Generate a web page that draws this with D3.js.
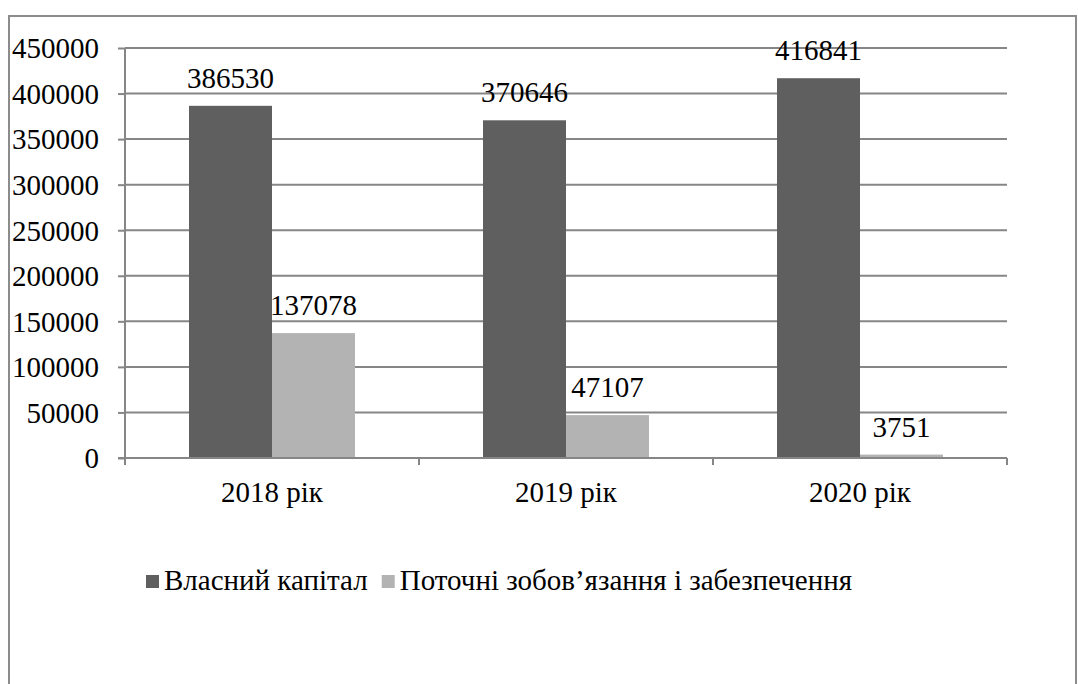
<!DOCTYPE html>
<html>
<head>
<meta charset="utf-8">
<script src="https://cdn.jsdelivr.net/npm/d3@7"></script>
</head>
<body style="margin:0">
<svg id="chart" width="1078" height="684" style="display:block"></svg>
<script>
// Years on the category axis
const categories = ["2018 рік", "2019 рік", "2020 рік"];
// Series names and values
const seriesNames = ["Власний капітал", "Поточні зобов’язання і забезпечення"];
const equity = [386530, 370646, 416841];
const liabilities = [137078, 47107, 3751];
// Value axis ticks
const yTicks = [0, 50000, 100000, 150000, 200000, 250000, 300000, 350000, 400000, 450000];

const seriesColors = ["#5f5f5f", "#b3b3b3"];
const gridColor = "#868686";
const fontFamily = '"Liberation Serif"';

const svg = d3.select("#chart").style("font-family", fontFamily);

// Applies the chart's text style to a selection of text nodes
function serifText(sel) {
  sel.style("font-family", fontFamily).style("font-size", "29px").attr("fill", "#000");
}

// Outer frame
svg.append("rect")
  .attr("x", 9).attr("y", 16)
  .attr("width", 1067).attr("height", 700)
  .attr("fill", "none").attr("stroke", "#8c8c8c").attr("stroke-width", 2);

const plot = { left: 125, right: 1007, top: 48, bottom: 458 };

const x = d3.scaleBand().domain(categories).range([plot.left, plot.right]).padding(0);
const inner = d3.scaleBand().domain(seriesNames)
  .range([64, x.bandwidth() - 64]).padding(0);
const y = d3.scaleLinear().domain([0, 450000]).range([plot.bottom, plot.top]);

// Horizontal gridlines
svg.append("g").selectAll("line").data(yTicks.filter(d => d > 0)).join("line")
  .attr("x1", plot.left).attr("x2", plot.right)
  .attr("y1", d => y(d)).attr("y2", d => y(d))
  .attr("stroke", gridColor).attr("stroke-width", 2);

// Bars with value labels
const seriesData = [equity, liabilities];
seriesNames.forEach((name, si) => {
  const g = svg.append("g");
  g.selectAll("rect").data(categories).join("rect")
    .attr("x", c => x(c) + inner(name))
    .attr("y", (c, i) => y(seriesData[si][i]))
    .attr("width", inner.bandwidth())
    .attr("height", (c, i) => y(0) - y(seriesData[si][i]))
    .attr("fill", seriesColors[si]);
  g.selectAll("text").data(categories).join("text")
    .attr("x", c => x(c) + inner(name) + inner.bandwidth() / 2)
    .attr("y", (c, i) => y(seriesData[si][i]) - 18)
    .attr("text-anchor", "middle")
    .call(serifText)
    .text((c, i) => seriesData[si][i]);
});

// Value axis
const yAxis = d3.axisLeft(y).tickValues(yTicks).tickSize(7).tickPadding(19)
  .tickFormat(d3.format("d"));
const ya = svg.append("g").attr("transform", `translate(${plot.left},0)`).call(yAxis)
  .attr("font-family", null).attr("font-size", null);
ya.select(".domain").remove();
ya.selectAll(".tick line").attr("stroke", gridColor).attr("stroke-width", 2);
ya.selectAll(".tick text").call(serifText).attr("dy", "0.34em");
svg.append("line")
  .attr("x1", plot.left).attr("x2", plot.left)
  .attr("y1", plot.top).attr("y2", plot.bottom + 7)
  .attr("stroke", gridColor).attr("stroke-width", 2);

// Category axis
svg.append("line")
  .attr("x1", plot.left - 7).attr("x2", plot.right)
  .attr("y1", plot.bottom).attr("y2", plot.bottom)
  .attr("stroke", gridColor).attr("stroke-width", 2);
const boundaries = categories.map(c => x(c)).concat([plot.right]);
svg.append("g").selectAll("line").data(boundaries).join("line")
  .attr("x1", d => d).attr("x2", d => d)
  .attr("y1", plot.bottom).attr("y2", plot.bottom + 7)
  .attr("stroke", gridColor).attr("stroke-width", 2);
svg.append("g").selectAll("text").data(categories).join("text")
  .attr("x", c => x(c) + x.bandwidth() / 2)
  .attr("y", 502)
  .attr("text-anchor", "middle")
  .call(serifText)
  .text(c => c);

// Legend: squares followed by series names, laid out in one row
const legend = svg.append("g");
const legendItems = legend.selectAll("g").data(seriesNames).join("g");
legendItems.append("rect")
  .attr("y", 575).attr("width", 13).attr("height", 13)
  .attr("fill", (d, i) => seriesColors[i]);
legendItems.append("text")
  .attr("x", 18).attr("y", 590)
  .call(serifText)
  .text(d => d);
let lx = 146;
legendItems.each(function () {
  d3.select(this).attr("transform", `translate(${lx},0)`);
  lx += 18 + d3.select(this).select("text").node().getComputedTextLength() + 14;
});
</script>
</body>
</html>
